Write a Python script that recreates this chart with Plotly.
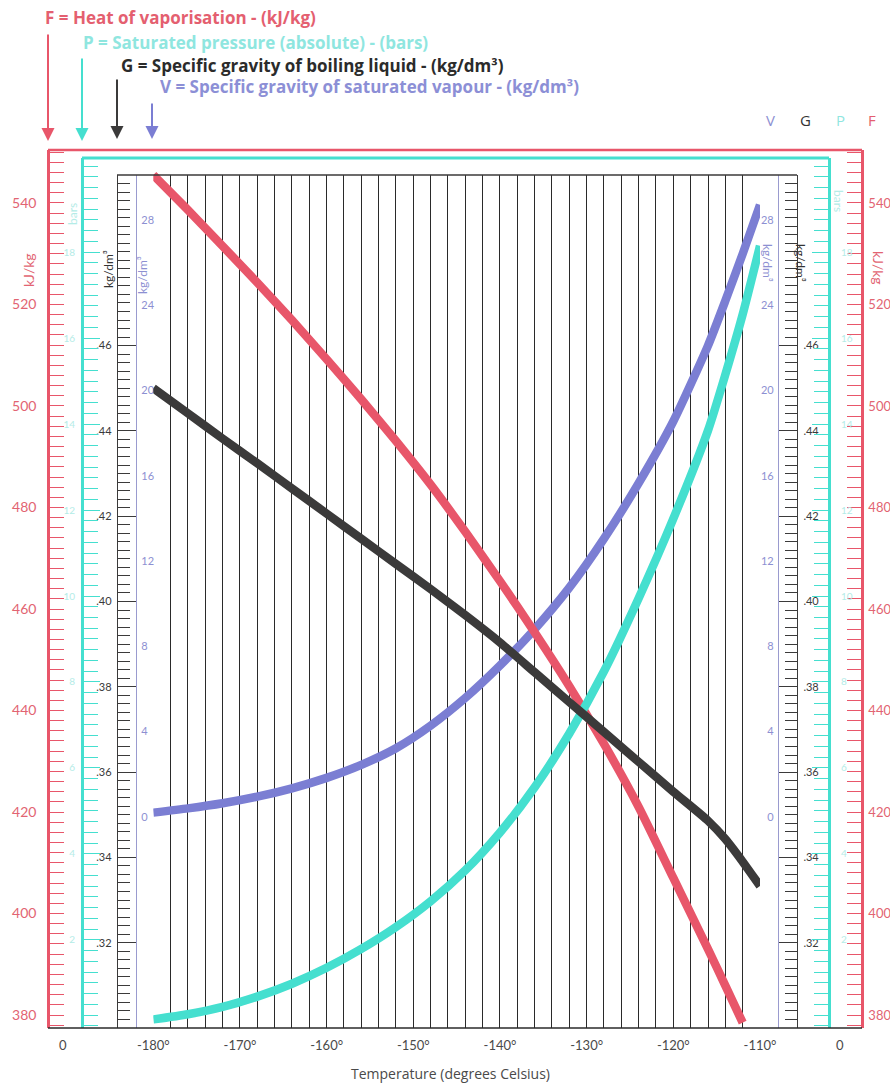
import plotly.graph_objects as go

W, H = 890, 1084

# ---------------- data ----------------
temps = [-180, -176, -172, -168, -164, -160, -156, -152, -148, -144,
         -140, -136, -132, -128, -124, -120, -116, -114, -112, -110]
# F = heat of vaporisation (kJ/kg)  (curve leaves the frame just after -112)
heat_temps = [-180, -176, -172, -168, -164, -160, -156, -152, -148, -144,
              -140, -136, -132, -128, -124, -120, -116, -114, -112]
heat_vap = [545.5, 538.6, 531.5, 524.3, 516.9, 509.2, 501.3, 493.1, 484.5, 475.2,
            465.5, 455.4, 444.8, 433.4, 421.0, 407.0, 393.0, 385.8, 378.5]
# P = saturated pressure (bar abs)
pressure = [0.15, 0.27, 0.44, 0.68, 0.98, 1.35, 1.79, 2.30, 2.90, 3.62,
            4.50, 5.55, 6.80, 8.25, 9.95, 11.8, 13.85, 15.15, 16.55, 18.15]
# G = specific gravity of boiling liquid
sg_liquid = [0.4500, 0.4441, 0.4382, 0.4324, 0.4265, 0.4206, 0.4147, 0.4088, 0.4029, 0.3968,
             0.3904, 0.3834, 0.3764, 0.3694, 0.3624, 0.3554, 0.3486, 0.3443, 0.3390, 0.3333]
# V = specific gravity of saturated vapour (scale 0..28)
sg_vapour = [0.20, 0.40, 0.64, 0.95, 1.34, 1.83, 2.44, 3.22, 4.28, 5.58,
             7.10, 8.80, 10.75, 13.05, 15.65, 18.55, 22.10, 24.20, 26.40, 28.70]

temp_ticks = list(range(-180, -109, 2))
temp_labels = [f"{t}°" if t % 10 == 0 else "" for t in temp_ticks]
F_ticks = [380, 400, 420, 440, 460, 480, 500, 520, 540]
P_ticks = [2, 4, 6, 8, 10, 12, 14, 16, 18]
G_ticks = [0.32, 0.34, 0.36, 0.38, 0.40, 0.42, 0.44, 0.46]
G_labels = [".32", ".34", ".36", ".38", ".40", ".42", ".44", ".46"]
V_ticks = [0, 4, 8, 12, 16, 20, 24, 28]

# ---------------- styling ----------------
RED = "#e8566a"
RED_T = "#e26472"
CYAN = "#45dfcf"
CYAN_T = "#b4ece7"
PURPLE = "#7b7ed3"
PURPLE_T = "#8d90d2"
DARK = "#3b3a3a"
FONT = "Lato"
HFONT = "Open Sans"

def px_x(x):
    return x / W

def px_y(y):
    return 1 - y / H

def ydom(top, bot):
    return [1 - bot / H, 1 - top / H]

GRID_TOP, GRID_BOT = 175, 1028
XL, XR = 153.3, 760.0
T_RANGE = [-180, -110]

# axis ranges derived from the picture's scales
F_RANGE = [377.44, 550.44]      # frame 150..1028 px
P_RANGE = [-0.05, 20.19]        # frame 158..1028 px
G_RANGE = [0.30, 0.50]          # grid 175..1028 px
V_RANGE = [-9.9, 30.1]          # grid 175..1028 px

fig = go.Figure()

def dummy(xa, ya):
    fig.add_trace(go.Scatter(x=[None], y=[None], xaxis=xa, yaxis=ya,
                             mode="lines", showlegend=False, hoverinfo="skip"))

# grid subplot (x, y) and display-only axes
dummy("x", "y")
dummy("x2", "y2")
dummy("x2", "y4")
dummy("x2", "y6")
dummy("x2", "y8")

LW = 8.5
SM = 0.6
fig.add_trace(go.Scatter(x=temps, y=sg_vapour, xaxis="x3", yaxis="y3", mode="lines",
                         line=dict(color=PURPLE, width=LW, shape="spline", smoothing=SM),
                         showlegend=False, name="V"))
fig.add_trace(go.Scatter(x=heat_temps, y=heat_vap, xaxis="x3", yaxis="y5", mode="lines",
                         line=dict(color=RED, width=LW, shape="spline", smoothing=SM),
                         showlegend=False, name="F"))
fig.add_trace(go.Scatter(x=temps, y=pressure, xaxis="x3", yaxis="y7", mode="lines",
                         line=dict(color=CYAN, width=LW, shape="spline", smoothing=SM),
                         showlegend=False, name="P"))
fig.add_trace(go.Scatter(x=temps, y=sg_liquid, xaxis="x3", yaxis="y9", mode="lines",
                         line=dict(color=DARK, width=LW, shape="spline", smoothing=SM),
                         showlegend=False, name="G"))


def yaxis(top, bot, rng, pos, side, linecolor, linewidth, tickvals=None, ticktext=None,
          ticklen=0, tickcolor=None, minor=None, fsize=12, fcolor="#444", standoff=2,
          showticklabels=True):
    d = dict(domain=ydom(top, bot), range=rng, anchor="free", position=pos / W, side=side,
             showline=True, linecolor=linecolor, linewidth=linewidth,
             showgrid=False, zeroline=False, automargin=False, fixedrange=True,
             tickfont=dict(family=FONT, size=fsize, color=fcolor),
             ticklabelstandoff=standoff, showticklabels=showticklabels)
    if tickvals is not None:
        d.update(tickmode="array", tickvals=tickvals)
        if ticktext is not None:
            d.update(ticktext=ticktext)
    if ticklen:
        d.update(ticks="inside", ticklen=ticklen, tickwidth=1.4, tickcolor=tickcolor or linecolor)
    else:
        d.update(ticks="")
    if minor:
        d.update(minor=minor)
    return d

G_minor = dict(tickmode="linear", tick0=0.30, dtick=0.002, ticks="inside", ticklen=12,
               tickwidth=1.3, tickcolor=DARK)
F_minor = dict(tickmode="linear", tick0=378, dtick=2, ticks="inside", ticklen=14,
               tickwidth=1.3, tickcolor=RED)
P_minor = dict(tickmode="linear", tick0=0, dtick=0.25, ticks="inside", ticklen=14,
               tickwidth=1.3, tickcolor=CYAN)

layout = dict(
    width=W, height=H, margin=dict(l=0, r=0, t=0, b=0),
    paper_bgcolor="white", plot_bgcolor="rgba(0,0,0,0)", showlegend=False,
    font=dict(family=FONT, color="#444"),
    xaxis=dict(domain=[XL / W, XR / W], range=T_RANGE, anchor="y",
               tickmode="array", tickvals=temp_ticks, ticktext=temp_labels,
               ticks="outside", ticklen=5, tickcolor="rgba(0,0,0,0)",
               showgrid=True, gridcolor="#2a2a2a", gridwidth=1.1,
               zeroline=False, showline=False, automargin=False, fixedrange=True,
               tickfont=dict(family=FONT, size=13, color="#4a4a4a")),
    xaxis2=dict(domain=[0, 1], range=[0, 1], anchor="free", position=0, visible=False),
    xaxis3=dict(domain=[XL / W, XR / W], range=T_RANGE, anchor="free", position=0,
                visible=False, fixedrange=True),
    # G (boiling liquid) scale, left and right of the grid
    yaxis=yaxis(GRID_TOP, GRID_BOT, G_RANGE, 117, "left", DARK, 1.4, G_ticks, G_labels,
                ticklen=18, tickcolor=DARK, minor=G_minor, fsize=11, fcolor="#3a3a3a", standoff=3),
    yaxis2=yaxis(GRID_TOP, GRID_BOT, G_RANGE, 797, "right", DARK, 1.4, G_ticks, G_labels,
                 ticklen=18, tickcolor=DARK, minor=G_minor, fsize=11, fcolor="#3a3a3a", standoff=3),
    # V (saturated vapour) scale
    yaxis3=yaxis(GRID_TOP, GRID_BOT, V_RANGE, 136, "right", "#9a9bcf", 1.3, V_ticks,
                 fsize=11, fcolor=PURPLE_T, standoff=2),
    yaxis4=yaxis(GRID_TOP, GRID_BOT, V_RANGE, 778, "left", "#9a9bcf", 1.3, V_ticks,
                 fsize=11, fcolor=PURPLE_T, standoff=2),
    # F (heat of vaporisation) scale
    yaxis5=yaxis(150, GRID_BOT, F_RANGE, 48, "left", RED, 2.5, F_ticks,
                 ticklen=14, tickcolor=RED, minor=F_minor, fsize=14, fcolor=RED_T, standoff=8),
    yaxis6=yaxis(150, GRID_BOT, F_RANGE, 862, "right", RED, 2.5, F_ticks,
                 ticklen=14, tickcolor=RED, minor=F_minor, fsize=13, fcolor=RED_T, standoff=2),
    # P (pressure) scale
    yaxis7=yaxis(158, GRID_BOT, P_RANGE, 82, "left", CYAN, 3, P_ticks,
                 ticklen=16, tickcolor=CYAN, minor=P_minor, fsize=10, fcolor=CYAN_T, standoff=4),
    yaxis8=yaxis(158, GRID_BOT, P_RANGE, 829, "right", CYAN, 3, P_ticks,
                 ticklen=16, tickcolor=CYAN, minor=P_minor, fsize=10, fcolor=CYAN_T, standoff=8),
    # invisible axis carrying the G curve (so it draws on top)
    yaxis9=dict(domain=ydom(GRID_TOP, GRID_BOT), range=G_RANGE, anchor="free", position=0,
                visible=False, fixedrange=True),
)
fig.update_layout(**layout)

shapes = [
    dict(x0=48, x1=862, y0=150, y1=150, color=RED, w=2.5),
    dict(x0=82, x1=829, y0=158, y1=158, color=CYAN, w=3),
    dict(x0=117, x1=797, y0=175, y1=175, color=DARK, w=1.5),
    dict(x0=48, x1=862, y0=1028, y1=1028, color="#2a2a2a", w=1.6),
]
for s in shapes:
    fig.add_shape(type="line", xref="paper", yref="paper",
                  x0=px_x(s["x0"]), x1=px_x(s["x1"]), y0=px_y(s["y0"]), y1=px_y(s["y1"]),
                  line=dict(color=s["color"], width=s["w"]))

def note(x, y, text, color, size, angle=0, xanchor="center", bold=False, family=FONT):
    fig.add_annotation(x=px_x(x), y=px_y(y), xref="paper", yref="paper",
                       text=f"<b>{text}</b>" if bold else text, showarrow=False,
                       textangle=angle, xanchor=xanchor, yanchor="middle",
                       font=dict(family=family, size=size, color=color))

# header legend lines
note(43, 18, "F = Heat of vaporisation - (kJ/kg)", "#e45f70", 17, xanchor="left", bold=True, family=HFONT)
note(81, 43, "P = Saturated pressure (absolute) - (bars)", "#8fe6df", 17, xanchor="left", bold=True, family=HFONT)
note(119, 65, "G = Specific gravity of boiling liquid - (kg/dm³)", "#2b2b2b", 17, xanchor="left", bold=True, family=HFONT)
note(158, 87, "V = Specific gravity of saturated vapour - (kg/dm³)", "#8c8fd6", 17, xanchor="left", bold=True, family=HFONT)

# arrows
for x, y0, y1, c in [(48, 33, 141, RED), (82, 57, 141, CYAN), (117, 78, 139, DARK), (152, 102, 139, PURPLE)]:
    fig.add_annotation(x=px_x(x), y=px_y(y1), xref="paper", yref="paper", text="",
                       showarrow=True, ax=0, ay=y0 - y1, axref="pixel", ayref="pixel",
                       arrowhead=2, arrowsize=1.3, arrowwidth=2, arrowcolor=c)

# top-right scale letters
note(770, 120, "V", PURPLE_T, 15, family=HFONT)
note(805, 120, "G", "#333", 15, family=HFONT)
note(840, 120, "P", "#8fe6df", 15, family=HFONT)
note(872, 120, "F", "#e45f70", 15, family=HFONT)

# rotated unit labels
note(28, 270, "kJ/kg", RED_T, 14, angle=-90)
note(879, 268, "kJ/kg", RED_T, 14, angle=90)
note(72, 214, "bars", CYAN_T, 12, angle=-90)
note(838, 201, "bars", CYAN_T, 12, angle=90)
note(108, 269, "kg/dm³", "#333", 12, angle=-90)
note(143, 275, "kg/dm³", PURPLE_T, 12, angle=-90)
note(768, 263, "kg/dm³", PURPLE_T, 12, angle=90)
note(801, 263, "kg/dm³", "#333", 12, angle=90)

# zero labels under the outer frame and axis title
note(63, 1045, "0", "#4a4a4a", 13)
note(840, 1045, "0", "#4a4a4a", 13)
note(450, 1073, "Temperature (degrees Celsius)", "#4a4a4a", 14, family=HFONT)

fig.write_html("out.html", config={"displayModeBar": False},
               post_script="document.body.style.margin='0';")
